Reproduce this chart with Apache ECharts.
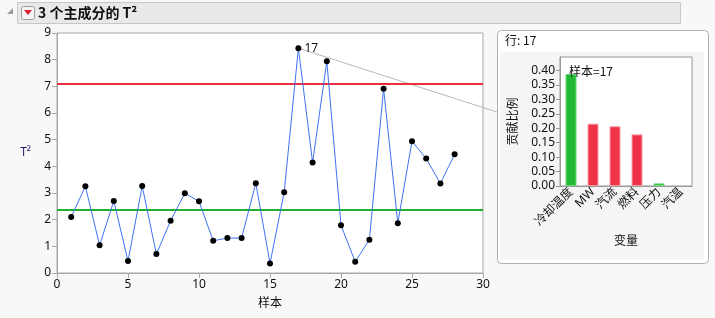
<!DOCTYPE html>
<html><head><meta charset="utf-8">
<script src="https://cdn.jsdelivr.net/npm/echarts@6/dist/echarts.min.js"></script>
<style>html,body{margin:0;padding:0;background:#f8f8f8;}#c{width:715px;height:318px;}</style>
</head><body><div id="c"></div>
<script>
const samples = [1,2,3,4,5,6,7,8,9,10,11,12,13,14,15,16,17,18,19,20,21,22,23,24,25,26,27,28];
const t2Values = [2.1,3.25,1.04,2.7,0.45,3.26,0.71,1.96,2.99,2.69,1.21,1.31,1.31,3.37,0.36,3.03,8.43,4.14,7.94,1.79,0.42,1.25,6.91,1.87,4.94,4.29,3.36,4.45];
const ucl = 7.11;
const centerLine = 2.375;
const selectedSample = 17;
const variables = ['冷却温度','MW','汽流','燃料','压力','汽温'];
const contributions = [0.388,0.216,0.207,0.179,0.009,0.0];
const barColors = ['#22bb33','#ee3347','#ee3347','#ee3347','#22bb33','#22bb33'];
const yTicks = [0,1,2,3,4,5,6,7,8,9];

const FONT = '"Noto Sans", "Noto Sans CJK SC", sans-serif';
const chart = echarts.init(document.getElementById('c'), null, {renderer:'canvas'});
const axisGray = '#a8a8a8';
const option = {
  backgroundColor: '#f8f8f8',
  animation: false,
  textStyle: {fontFamily: FONT},
  grid: [
    {left:57, top:33, width:426, height:240, show:true, backgroundColor:'#ffffff', borderColor:axisGray, borderWidth:1},
    {left:560, top:57, width:132, height:129, show:true, backgroundColor:'#ffffff', borderColor:'#999', borderWidth:1}
  ],
  xAxis: [
    {type:'value', gridIndex:0, min:0, max:30, interval:5,
     axisLine:{show:true, onZero:false, lineStyle:{color:axisGray}},
     axisTick:{show:true, length:5, lineStyle:{color:axisGray}},
     axisLabel:{color:'#111', fontSize:12, margin:6, fontFamily:FONT},
     splitLine:{show:false},
     name:'样本', nameLocation:'middle', nameGap:25,
     nameTextStyle:{color:'#111', fontSize:12, fontFamily:FONT}},
    {type:'category', gridIndex:1, data:variables,
     axisLine:{show:true, lineStyle:{color:'#999'}},
     axisTick:{show:false},
     axisLabel:{color:'#111', fontSize:12, rotate:45, margin:4, interval:0, fontFamily:FONT},
     name:'变量', nameLocation:'middle', nameGap:50,
     nameTextStyle:{color:'#111', fontSize:12, fontFamily:FONT}}
  ],
  yAxis: [
    {type:'value', gridIndex:0, min:0, max:9, interval:1,
     axisLine:{show:true, lineStyle:{color:axisGray}},
     axisTick:{show:true, length:5, lineStyle:{color:axisGray}},
     axisLabel:{color:'#111', fontSize:12, margin:6, fontFamily:FONT,
       formatter: v => yTicks.indexOf(v) >= 0 ? String(v) : ''},
     splitLine:{show:false},
     name:'T²', nameLocation:'middle', nameGap:26, nameRotate:0,
     nameTextStyle:{color:'#2a1f6e', fontSize:12, fontFamily:FONT, padding:[6,0,0,0]}},
    {type:'value', gridIndex:1, min:0, max:0.447, interval:0.05,
     axisLine:{show:true, lineStyle:{color:'#999'}},
     axisTick:{show:true, length:4, lineStyle:{color:'#999'}},
     axisLabel:{color:'#111', fontSize:12, margin:5, fontFamily:FONT, showMaxLabel:false,
       formatter: v => v > 0.41 ? '' : v.toFixed(2)},
     splitLine:{show:false},
     name:'贡献比例', nameLocation:'middle', nameGap:40, nameRotate:90,
     nameTextStyle:{color:'#111', fontSize:12, fontFamily:FONT}}
  ],
  series: [
    {type:'line', xAxisIndex:0, yAxisIndex:0,
     data: samples.map((s,i)=>[s,t2Values[i]]),
     lineStyle:{color:'#3f72f2', width:1},
     symbol:'circle', symbolSize:6,
     itemStyle:{color:'#000'},
     label:{show:true, position:'right', distance:3, color:'#111', fontSize:12, fontFamily:FONT,
       formatter: p => p.data[0] === selectedSample ? String(selectedSample) : ''},
     markLine:{silent:true, symbol:'none', label:{show:false},
       data:[
         {yAxis:ucl, lineStyle:{color:'#e8303f', width:2, type:'solid'}},
         {yAxis:centerLine, lineStyle:{color:'#22b030', width:2, type:'solid'}}
       ]},
     z:5},
    {type:'bar', xAxisIndex:1, yAxisIndex:1,
     data: contributions.map((v,i)=>({value:v, itemStyle:{color:barColors[i], borderColor: i===0||i===4 ? '#6cd978' : '#f5a0a8', borderWidth: v > 0 ? 1 : 0}})),
     barWidth:11}
  ]
};
chart.setOption(option);

function drawGraphics(){
  const p17 = chart.convertToPixel({xAxisIndex:0, yAxisIndex:0}, [selectedSample, t2Values[samples.indexOf(selectedSample)]]);
  const panelX = 497, panelY = 30, panelW = 211, panelH = 233;
  chart.setOption({graphic:[
    {type:'rect', shape:{x:17.5, y:2.5, width:663, height:21}, style:{fill:'#e9e9e9', stroke:'#c8c8c8', lineWidth:1}, z:1},
    {type:'polygon', shape:{points:[[13,8],[13,14],[7,14]]}, style:{fill:'#9a9a9a'}, z:2},
    {type:'rect', shape:{x:21.5, y:6.5, width:13, height:13, r:2}, style:{fill:'#f4f4f4', stroke:'#9c9c9c', lineWidth:1}, z:2},
    {type:'polygon', shape:{points:[[24,10],[32,10],[28,15]]}, style:{fill:'#d8202c'}, z:3},
    {type:'text', x:38, y:13, style:{text:'3 个主成分的 T²', font:'bold 14px "Noto Sans CJK SC", sans-serif', fill:'#111', textVerticalAlign:'middle'}, z:3},
    {type:'line', shape:{x1:p17[0], y1:p17[1], x2:panelX, y2:112}, style:{stroke:'#b8b8b8', lineWidth:1}, z:4},
    {type:'rect', shape:{x:panelX+0.5, y:panelY+0.5, width:panelW, height:panelH, r:4}, style:{fill:'#ffffff', stroke:'#b0b0b0', lineWidth:1}, z:-1},
    {type:'rect', shape:{x:panelX+3, y:52, width:panelW-7, height:panelH-25}, style:{fill:'#f5f5f5'}, z:-1},
    {type:'text', x:505, y:40, style:{text:'行: 17', font:'12px "Noto Sans CJK SC", sans-serif', fill:'#111', textVerticalAlign:'middle'}, z:3},
    {type:'text', x:569, y:71, style:{text:'样本=17', font:'12px "Noto Sans CJK SC", sans-serif', fill:'#111', textVerticalAlign:'middle'}, z:10}
  ]});
}
drawGraphics();
</script></body></html>
